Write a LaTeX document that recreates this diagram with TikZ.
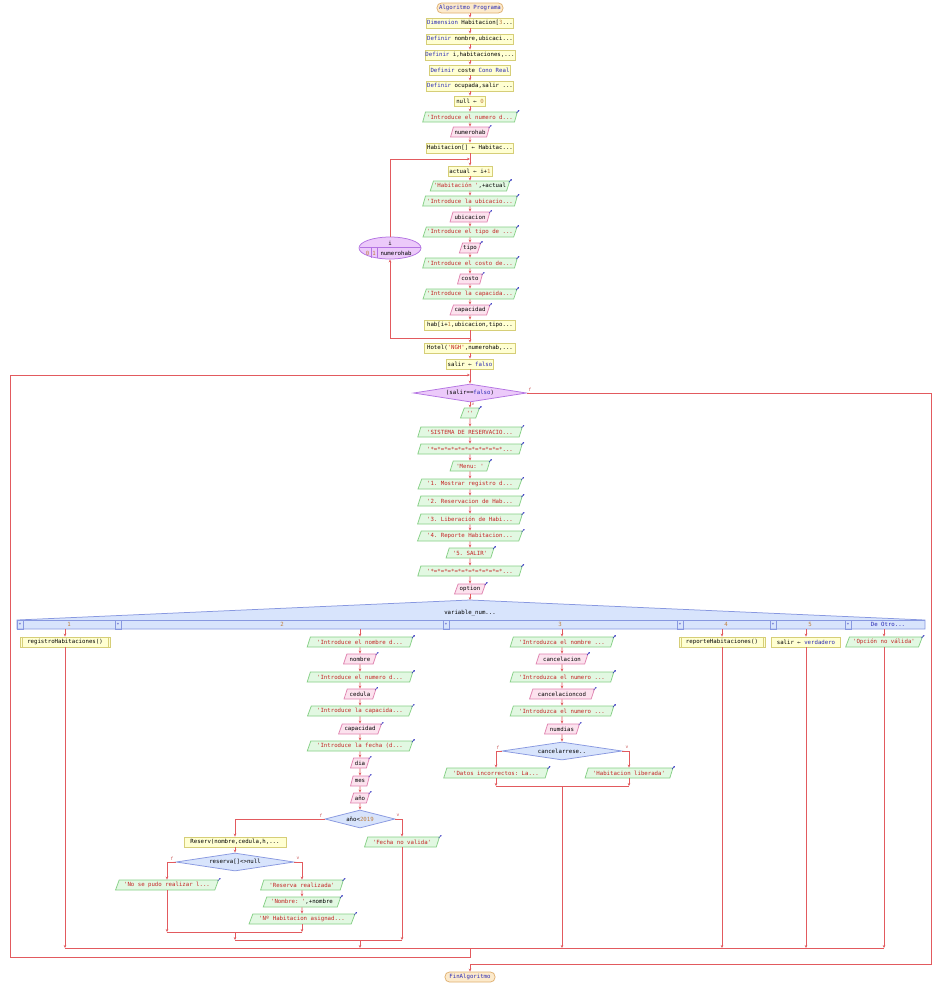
\documentclass[tikz,border=0pt]{standalone}
\usepackage{fontspec}
\setmonofont{DejaVu Sans Mono}
\usetikzlibrary{shapes.geometric,arrows.meta,calc}
\definecolor{procF}{HTML}{FFFFD2}
\definecolor{procB}{HTML}{D6CE78}
\definecolor{outF}{HTML}{E2F8E2}
\definecolor{outB}{HTML}{86D086}
\definecolor{inF}{HTML}{FCE2EE}
\definecolor{inB}{HTML}{E084B0}
\definecolor{termF}{HTML}{FCEACC}
\definecolor{termB}{HTML}{E0B070}
\definecolor{whF}{HTML}{ECCAFA}
\definecolor{whB}{HTML}{B474E2}
\definecolor{ifF}{HTML}{D8E4FC}
\definecolor{ifB}{HTML}{8898E0}
\definecolor{lineC}{HTML}{E25A5E}
\definecolor{strC}{HTML}{C42424}
\definecolor{kwC}{HTML}{2A2AB4}
\definecolor{numC}{HTML}{C08040}
\definecolor{lblC}{HTML}{C85050}
\definecolor{markC}{HTML}{3030C0}
\newcommand{\kwc}[1]{\textcolor{kwC}{#1}}
\newcommand{\strc}[1]{\textcolor{strC}{#1}}
\newcommand{\numc}[1]{\textcolor{numC}{#1}}
\begin{document}
\begin{tikzpicture}[x=1pt,y=-1pt,
  base/.style={font=\ttfamily\fontsize{5.7}{6}\selectfont, inner sep=0.5pt, minimum height=10pt, line width=0.75pt},
  proc/.style={base, rectangle, draw=procB, fill=procF},
  term/.style={base, rectangle, rounded corners=4.5pt, draw=termB, fill=termF, text=kwC},
  outp/.style={base, trapezium, trapezium left angle=63, trapezium right angle=117, trapezium stretches=true, draw=outB, fill=outF},
  inp/.style={base, trapezium, trapezium left angle=63, trapezium right angle=117, trapezium stretches=true, draw=inB, fill=inF},
  whl/.style={base, diamond, inner sep=0pt, draw=whB, fill=whF},
  cnd/.style={base, diamond, inner sep=0pt, draw=ifB, fill=ifF},
  lbl/.style={font=\ttfamily\fontsize{4.5}{5}\selectfont, text=lblC, inner sep=0pt},
  cn/.style={draw=lineC, line width=0.8pt},
  ar/.style={cn, -{Stealth[length=3pt,width=2.6pt]}},
  mk/.style={draw=markC, line width=0.5pt, -{Stealth[length=1.6pt,width=1.6pt]}},
  swtxt/.style={font=\ttfamily\fontsize{5.7}{6}\selectfont, inner sep=0pt}
]
\useasboundingbox[fill=white] (0,0) rectangle (939,983);

% ---------- main column ----------
\node[term, minimum width=66pt] (t0) at (470,8) {Algoritmo Programa};
\node[proc, minimum width=87pt] (p1) at (470,23) {\kwc{Dimension} Habitacion[\numc{3}...};
\node[proc, minimum width=87pt] (p2) at (470,39) {\kwc{Definir} nombre,ubicaci...};
\node[proc, minimum width=87pt] (p3) at (470,55) {\kwc{Definir} i,habitaciones,...};
\node[proc, minimum width=81pt] (p4) at (470,70) {\kwc{Definir} coste \kwc{Cono Real}};
\node[proc, minimum width=87pt] (p5) at (470,86) {\kwc{Definir} ocupada,salir ...};
\node[proc, minimum width=31pt] (p6) at (470,101) {null ← \numc{0}};
\node[outp, minimum width=95pt] (o1) at (470,117) {\strc{'Introduce el numero d...}};
\node[inp, minimum width=39pt] (i1) at (470,132) {numerohab};
\node[proc, minimum width=87pt] (p7) at (470,148) {Habitacion[] ← Habitac...};
\node[proc, minimum width=44pt] (p8) at (470,171) {actual ← i+\numc{1}};
\node[outp, minimum width=79pt] (o2) at (470,186) {\strc{'Habitación '},+actual};
\node[outp, minimum width=95pt] (o3) at (470,201) {\strc{'Introduce la ubicacio...}};
\node[inp, minimum width=40pt] (i2) at (470,217) {ubicacion};
\node[outp, minimum width=95pt] (o4) at (470,232) {\strc{'Introduce el tipo de ...}};
\node[inp, minimum width=21pt] (i3) at (470,248) {tipo};
\node[outp, minimum width=95pt] (o5) at (470,263) {\strc{'Introduce el costo de...}};
\node[inp, minimum width=25pt] (i4) at (470,279) {costo};
\node[outp, minimum width=95pt] (o6) at (470,294) {\strc{'Introduce la capacida...}};
\node[inp, minimum width=40pt] (i5) at (470,310) {capacidad};
\node[proc, minimum width=91pt] (p9) at (470,325) {hab[i+\numc{1},ubicacion,tipo...};
\node[proc, minimum width=91pt] (p10) at (470,348) {Hotel(\strc{'NGH'},numerohab,...};
\node[proc, minimum width=47pt] (p11) at (470,364) {salir ← \kwc{falso}};

% for loop ellipse
\node[base, ellipse, inner sep=0pt, minimum width=62pt, minimum height=22pt, draw=whB, fill=whF] (for) at (390,248) {};
\node[swtxt] (fv) at (390,243) {i};
\draw[whB, line width=0.5pt] (359.5,247.5) -- (420.5,247.5);
\node[swtxt, text=numC] (f0) at (367.5,253) {0};
\node[swtxt, text=numC] (f1) at (374,253) {1};
\node[swtxt] (f2) at (396,253) {numerohab};
\draw[whB, line width=0.5pt] (371,248) -- (371,258) (377,248) -- (377,258);

% while
\node[whl, aspect=6.3, minimum width=113pt, minimum height=18pt] (w1) at (470,393) {(salir==\kwc{falso})};
\node[outp, minimum width=19pt] (o7) at (470,413) {\strc{''}};
\node[outp, minimum width=105pt] (o8) at (470,432) {\strc{'SISTEMA DE RESERVACIO...}};
\node[outp, minimum width=105pt] (o9) at (470,449) {\strc{'*=*=*=*=*=*=*=*=*=*=*...}};
\node[outp, minimum width=40pt] (o10) at (470,466) {\strc{'Menu: '}};
\node[outp, minimum width=105pt] (o11) at (470,484) {\strc{'1. Mostrar registro d...}};
\node[outp, minimum width=105pt] (o12) at (470,501) {\strc{'2. Reservacion de Hab...}};
\node[outp, minimum width=105pt] (o13) at (470,519) {\strc{'3. Liberación de Habi...}};
\node[outp, minimum width=105pt] (o14) at (470,536) {\strc{'4. Reporte Habitacion...}};
\node[outp, minimum width=48pt] (o15) at (470,553) {\strc{'5. SALIR'}};
\node[outp, minimum width=105pt] (o16) at (470,571) {\strc{'*=*=*=*=*=*=*=*=*=*=*...}};
\node[inp, minimum width=31pt] (i6) at (470,589) {option};

% switch
\coordinate (swtop) at (470,600);
\filldraw[fill=ifF, draw=ifB, line width=0.75pt] (17,629) -- (17,620) -- (swtop) -- (925,620) -- (925,629) -- cycle;
\draw[ifB, line width=0.6pt] (17,620) -- (925,620);
\foreach \sx in {17,115,443,677,770,845} {
  \draw[ifB, line width=0.6pt] (\sx,620) rectangle (\sx+6,629);
  \node[swtxt, font=\ttfamily\fontsize{4}{4}\selectfont, text=kwC] at (\sx+3,624.5) {+};
}
\node[swtxt] (sw) at (470,613) {variable\_num...};
\node[swtxt, text=numC] (c1) at (69,624.5) {1};
\node[swtxt, text=numC] (c2) at (282,624.5) {2};
\node[swtxt, text=numC] (c3) at (560,624.5) {3};
\node[swtxt, text=numC] (c4) at (726,624.5) {4};
\node[swtxt, text=numC] (c5) at (810,624.5) {5};
\node[swtxt, text=kwC] (c6) at (888,624.5) {De Otro...};
\coordinate (s1) at (65,629);
\coordinate (s2) at (360,629);
\coordinate (s3) at (562,629);
\coordinate (s4) at (722,629);
\coordinate (s5) at (806,629);
\coordinate (s6) at (884,629);

% branch 1
\node[proc, minimum width=90pt] (b1) at (65,642) {registroHabitaciones()};
% branch 2
\node[outp, minimum width=106pt] (o20) at (360,642) {\strc{'Introduce el nombre d...}};
\node[inp, minimum width=33pt] (i20) at (360,659) {nombre};
\node[outp, minimum width=106pt] (o21) at (360,677) {\strc{'Introduce el numero d...}};
\node[inp, minimum width=32pt] (i21) at (360,694) {cedula};
\node[outp, minimum width=106pt] (o22) at (360,711) {\strc{'Introduce la capacida...}};
\node[inp, minimum width=43pt] (i22) at (360,729) {capacidad};
\node[outp, minimum width=106pt] (o23) at (360,746) {\strc{'Introduce la fecha (d...}};
\node[inp, minimum width=19pt] (i23) at (360,763) {dia};
\node[inp, minimum width=19pt] (i24) at (360,781) {mes};
\node[inp, minimum width=19pt] (i25) at (360,798) {año};
\node[cnd, aspect=3.9, minimum width=70pt, minimum height=18pt] (d1) at (360,819) {año<\numc{2019}};
\node[proc, minimum width=102pt] (p20) at (235,842) {Reserv(nombre,cedula,h,...};
\node[cnd, aspect=6.6, minimum width=118pt, minimum height=18pt] (d2) at (235,862) {reserva[]<>null};
\node[outp, minimum width=104pt] (o24) at (167,885) {\strc{'No se pudo realizar l...}};
\node[outp, minimum width=83pt] (o25) at (302,885) {\strc{'Reserva realizada'}};
\node[outp, minimum width=78pt] (o26) at (302,902) {\strc{'Nombre: '},+nombre};
\node[outp, minimum width=107pt] (o27) at (302,919) {\strc{'Nº Habitacion asignad...}};
\node[outp, minimum width=75pt] (o28) at (402,842) {\strc{'Fecha no valida'}};
% branch 3
\node[outp, minimum width=104pt] (o30) at (562,642) {\strc{'Introduzca el nombre ...}};
\node[inp, minimum width=52pt] (i30) at (562,659) {cancelacion};
\node[outp, minimum width=104pt] (o31) at (562,677) {\strc{'Introduzca el numero ...}};
\node[inp, minimum width=65pt] (i31) at (562,694) {cancelacioncod};
\node[outp, minimum width=104pt] (o32) at (562,711) {\strc{'Introduzca el numero ...}};
\node[inp, minimum width=35pt] (i32) at (562,729) {numdias};
\node[cnd, aspect=6.7, minimum width=120pt, minimum height=18pt] (d3) at (562,751) {cancelarrese..};
\node[outp, minimum width=105pt] (o33) at (496,773) {\strc{'Datos incorrectos: La...}};
\node[outp, minimum width=88pt] (o34) at (629,773) {\strc{'Habitacion liberada'}};
% branches 4-6
\node[proc, minimum width=86pt] (p40) at (722,642) {reporteHabitaciones()};
\node[proc, minimum width=69pt] (p50) at (806,642) {salir ← \kwc{verdadero}};
\node[outp, minimum width=77pt] (o60) at (884,642) {\strc{'Opción no válida'}};
% end
\node[term, minimum width=50pt] (t1) at (470,977) {FinAlgoritmo};

% subprocess inner lines
\foreach \n in {b1,p40} {
  \draw[procB, line width=0.5pt] ($(\n.north west)+(2.5,0)$) -- ($(\n.south west)+(2.5,0)$);
  \draw[procB, line width=0.5pt] ($(\n.north east)+(-2.5,0)$) -- ($(\n.south east)+(-2.5,0)$);
}

% ---------- connectors ----------
\foreach \a/\b in {t0/p1,p1/p2,p2/p3,p3/p4,p4/p5,p5/p6,p6/o1,o1/i1,i1/p7,
  p8/o2,o2/o3,o3/i2,i2/o4,o4/i3,i3/o5,o5/i4,i4/o6,o6/i5,i5/p9,p10/p11,
  o7/o8,o8/o9,o9/o10,o10/o11,o11/o12,o12/o13,o13/o14,o14/o15,o15/o16,o16/i6,
  o20/i20,i20/o21,o21/i21,i21/o22,o22/i22,i22/o23,o23/i23,i23/i24,i24/i25,i25/d1,
  p20/d2,o25/o26,o26/o27,
  o30/i30,i30/o31,o31/i31,i31/o32,o32/i32,i32/d3}
  \draw[ar] (\a) -- (\b);

% for loop
\coordinate (lt) at (470,159);
\coordinate (lb) at (470,338);
\draw[cn] (p7) -- (lt);
\draw[ar] (lt) -- (p8);
\draw[ar] (for.north) |- (lt);
\draw[cn] (p9) -- (lb);
\draw[ar] (lb) -- (p10);
\draw[ar] (lb) -| (for.south);

% while loop
\coordinate (wj) at (470,375);
\draw[cn] (p11) -- (wj);
\draw[ar] (wj) -- (w1);
\draw[ar] (w1) -- (o7);
\node[lbl] (wv) at (473,404.5) {v};
\node[lbl] (wf) at (530,390) {f};
\draw[ar] (i6) -- (swtop);

% switch branches
\draw[ar] (s1) -- (b1);
\draw[ar] (s2) -- (o20);
\draw[ar] (s3) -- (o30);
\draw[ar] (s4) -- (p40);
\draw[ar] (s5) -- (p50);
\draw[ar] (s6) -- (o60);

% branch 2 conditions
\draw[ar] (d1.west) -| (p20);
\draw[ar] (d1.east) -| (o28);
\node[lbl] (lf1) at (321,815.5) {f};
\node[lbl] (lv1) at (398,815.5) {v};
\draw[ar] (d2.west) -| (o24);
\draw[ar] (d2.east) -| (o25);
\node[lbl] (lf2) at (172,858.5) {f};
\node[lbl] (lv2) at (298,858.5) {v};
\coordinate (ja1) at (167,932);
\coordinate (ja2) at (302,932);
\coordinate (ja) at (235,932);
\coordinate (jb) at (235,940);
\coordinate (jb2) at (402,940);
\coordinate (jc) at (360,940);
\draw[ar] (o24) -- (ja1);
\draw[ar] (o27) -- (ja2);
\draw[cn] (ja1) -- (ja2);
\draw[ar] (ja) -- (jb);
\draw[ar] (o28) -- (jb2);
\draw[cn] (jb) -- (jb2);

% branch 3 condition
\draw[ar] (d3.west) -| (o33);
\draw[ar] (d3.east) -| (o34);
\node[lbl] (lf3) at (498,747.5) {f};
\node[lbl] (lv3) at (627,747.5) {v};
\coordinate (m1) at (496,786);
\coordinate (m2) at (629,786);
\coordinate (m3) at (562,786);
\draw[ar] (o33) -- (m1);
\draw[ar] (o34) -- (m2);
\draw[cn] (m1) -- (m2);

% switch join
\coordinate (k1) at (65,948);
\coordinate (k2) at (360,948);
\coordinate (k3) at (562,948);
\coordinate (k4) at (722,948);
\coordinate (k5) at (806,948);
\coordinate (k6) at (884,948);
\coordinate (kc) at (470,948);
\coordinate (kd) at (470,957);
\coordinate (wl) at (10,957);
\coordinate (wt) at (10,375);
\draw[ar] (b1) -- (k1);
\draw[ar] (jc) -- (k2);
\draw[ar] (m3) -- (k3);
\draw[ar] (p40) -- (k4);
\draw[ar] (p50) -- (k5);
\draw[ar] (o60) -- (k6);
\draw[cn] (k1) -- (k6);
\draw[ar] (kc) -- (kd) -- (wl) -- (wt) -- (wj);

% exit
\coordinate (er) at (931,393);
\coordinate (eb) at (931,964);
\coordinate (ec) at (470,964);
\draw[cn] (w1.east) -- (er) -- (eb) -- (ec);
\draw[ar] (ec) -- (t1);

% small output/input marks
\foreach \n in {o1,i1,o2,o3,i2,o4,i3,o5,i4,o6,i5,o7,o8,o9,o10,o11,o12,o13,o14,o15,o16,i6,
  o20,i20,o21,i21,o22,i22,o23,i23,i24,i25,o24,o25,o26,o27,o28,
  o30,i30,o31,i31,o32,i32,o33,o34,o60}
  \draw[mk] ($(\n.top right corner)+(-1.5,1.5)$) -- ++(3,-3);
\end{tikzpicture}
\end{document}
